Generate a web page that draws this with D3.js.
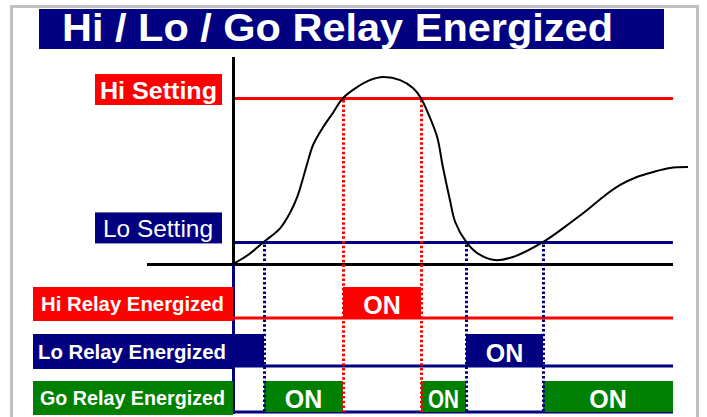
<!DOCTYPE html>
<html>
<head>
<meta charset="utf-8">
<script src="https://cdn.jsdelivr.net/npm/d3@7"></script>
<style>
  html, body { margin: 0; padding: 0; background: #fff; }
  svg { display: block; font-family: "Liberation Sans", Arial, sans-serif; }
</style>
</head>
<body>
<svg id="chart" width="707" height="417"></svg>
<script>
// ---------------- data ----------------
const titleText = "Hi / Lo / Go Relay Energized";
const settingLabels = ["Hi Setting", "Lo Setting"];
const settingValues = [100, 13];              // Hi setting, Lo setting (level units)
const relayLabels = ["Hi Relay Energized", "Lo Relay Energized", "Go Relay Energized"];
const onLabel = "ON";

// measured process level over time
const curveT = [0, 3.4, 7.0, 10.7, 13.0, 14.6, 15.8, 16.9, 18.2, 20.5, 22.7, 25.0, 28.2, 31.1, 34.1, 38.0, 40.9, 42.7, 44.3, 46.4, 47.7, 49.3, 50.5, 53.0, 55.5, 59.5, 63.6, 70.5, 76.6, 80.5, 84.1, 88.0, 91.8, 95.5, 99.3, 103.4];
const curveLevel = [0, 5.4, 13.3, 21.5, 31.0, 40.4, 50.6, 60.8, 71.7, 82.5, 91.0, 100, 106.6, 110.8, 112.7, 110.8, 106.0, 100, 91.0, 76.5, 58.4, 38.6, 25.3, 13.3, 6.6, 2.4, 4.2, 13.3, 24.7, 32.5, 40.4, 47.6, 52.4, 55.4, 57.8, 58.4];

// times where the level crosses the settings
const hiCrossings = [25.0, 42.7];
const loCrossings = [7.0, 53.0, 70.5];

// relay ON intervals
const hiOn = [[25.0, 42.7]];
const loOn = [[0, 7.0], [53.0, 70.5]];
const goOn = [[7.0, 25.0], [42.7, 53.0], [70.5, 100]];

// ---------------- drawing ----------------
const RED = "#ff0000", NAVY = "#000080", GREEN = "#008000", GRAY = "#c0c0c0";
const svg = d3.select("#chart");

const x = d3.scaleLinear().domain([0, 100]).range([233, 673]);
const y = d3.scaleLinear().domain([0, 100]).range([264, 98]);
const px = v => Math.round(x(v)) + 0.5;

// frame
svg.append("rect").attr("x", 11.5).attr("y", 6.5).attr("width", 686).attr("height", 430)
  .attr("fill", "#fff").attr("stroke", GRAY).attr("stroke-width", 3);

// title
svg.append("rect").attr("x", 39).attr("y", 9).attr("width", 625).attr("height", 40).attr("fill", NAVY);
svg.append("text").attr("x", 62).attr("y", 41)
  .attr("font-size", 39).attr("font-weight", "bold").attr("fill", "#fff")
  .attr("textLength", 551).attr("lengthAdjust", "spacingAndGlyphs")
  .text(titleText);

// setting labels
const settingColors = [RED, NAVY];
const settingWeights = ["bold", "normal"];
const settingTextX = [100, 103];
const settingTextW = [117, 110];
settingValues.forEach((v, i) => {
  const cy = y(v);
  const top = cy - (i === 0 ? 24 : 30);
  svg.append("rect").attr("x", 95).attr("y", top).attr("width", 127).attr("height", 31).attr("fill", settingColors[i]);
  svg.append("text").attr("x", settingTextX[i]).attr("y", top + 25)
    .attr("font-size", 24).attr("font-weight", settingWeights[i]).attr("fill", "#fff")
    .attr("textLength", settingTextW[i]).attr("lengthAdjust", "spacingAndGlyphs")
    .text(settingLabels[i]);
  svg.append("line").attr("x1", x(0)).attr("x2", x(100)).attr("y1", Math.round(cy) + 0.5).attr("y2", Math.round(cy) + 0.5)
    .attr("stroke", settingColors[i]).attr("stroke-width", 3);
});

// axes
svg.append("line").attr("x1", 147).attr("x2", x(100)).attr("y1", y(0) + 0.5).attr("y2", y(0) + 0.5)
  .attr("stroke", "#000").attr("stroke-width", 3);
svg.append("line").attr("x1", x(0) + 0.5).attr("x2", x(0) + 0.5).attr("y1", 57).attr("y2", y(0) + 1)
  .attr("stroke", "#000").attr("stroke-width", 3);
svg.append("line").attr("x1", x(0) + 0.5).attr("x2", x(0) + 0.5).attr("y1", y(0) + 1).attr("y2", 414)
  .attr("stroke", NAVY).attr("stroke-width", 3);

// relay rows
const rows = [
  { label: relayLabels[0], color: RED, line: RED, on: hiOn, top: 287, base: 318, tx: 41, tw: 183 },
  { label: relayLabels[1], color: NAVY, line: NAVY, on: loOn, top: 334, base: 366, tx: 38, tw: 188 },
  { label: relayLabels[2], color: GREEN, line: NAVY, on: goOn, top: 381, base: 412, tx: 40, tw: 185 }
];

rows.forEach(r => {
  svg.append("rect").attr("x", 33).attr("y", r.top).attr("width", x(0) - 33).attr("height", r.base - r.top + 3)
    .attr("fill", r.color);
  svg.append("text").attr("x", r.tx).attr("y", r.base - 7)
    .attr("font-size", 20.5).attr("font-weight", "bold").attr("fill", "#fff")
    .attr("textLength", r.tw).attr("lengthAdjust", "spacingAndGlyphs")
    .text(r.label);
  svg.append("line").attr("x1", x(0)).attr("x2", x(100)).attr("y1", r.base).attr("y2", r.base)
    .attr("stroke", r.line).attr("stroke-width", 3);
});

// ON boxes
rows.forEach(r => {
  r.on.forEach(([a, b]) => {
    const x0 = Math.round(x(a)), x1 = Math.round(Math.min(x(b), x(100)));
    const w = x1 - x0;
    svg.append("rect").attr("x", a === 0 ? x0 - 1 : x0).attr("y", r.top).attr("width", w + (a === 0 ? 1 : 0))
      .attr("height", r.base - r.top)
      .attr("fill", r.color);
    if (a > 0) {
      const t = svg.append("text").attr("x", (x0 + x1) / 2).attr("y", r.base - 4)
        .attr("text-anchor", "middle").attr("font-size", 25).attr("font-weight", "bold")
        .attr("fill", "#fff").text(onLabel);
      if (w < 55) t.attr("textLength", w - 14).attr("lengthAdjust", "spacingAndGlyphs");
    }
  });
});

// dotted crossing lines
function dotted(t, startLevel, color) {
  svg.append("line").attr("x1", px(t)).attr("x2", px(t)).attr("y1", y(startLevel) + 2).attr("y2", 412)
    .attr("stroke", color).attr("stroke-width", 3)
    .attr("stroke-dasharray", "2.5,2.2");
}
hiCrossings.forEach(t => dotted(t, settingValues[0], RED));
loCrossings.forEach(t => dotted(t, settingValues[1], NAVY));

// level curve
const line = d3.line()
  .x((d, i) => x(curveT[i]))
  .y((d, i) => y(curveLevel[i]))
  .curve(d3.curveCatmullRom.alpha(0.5));
svg.append("path").datum(curveT).attr("d", line)
  .attr("fill", "none").attr("stroke", "#000").attr("stroke-width", 2);
</script>
</body>
</html>
